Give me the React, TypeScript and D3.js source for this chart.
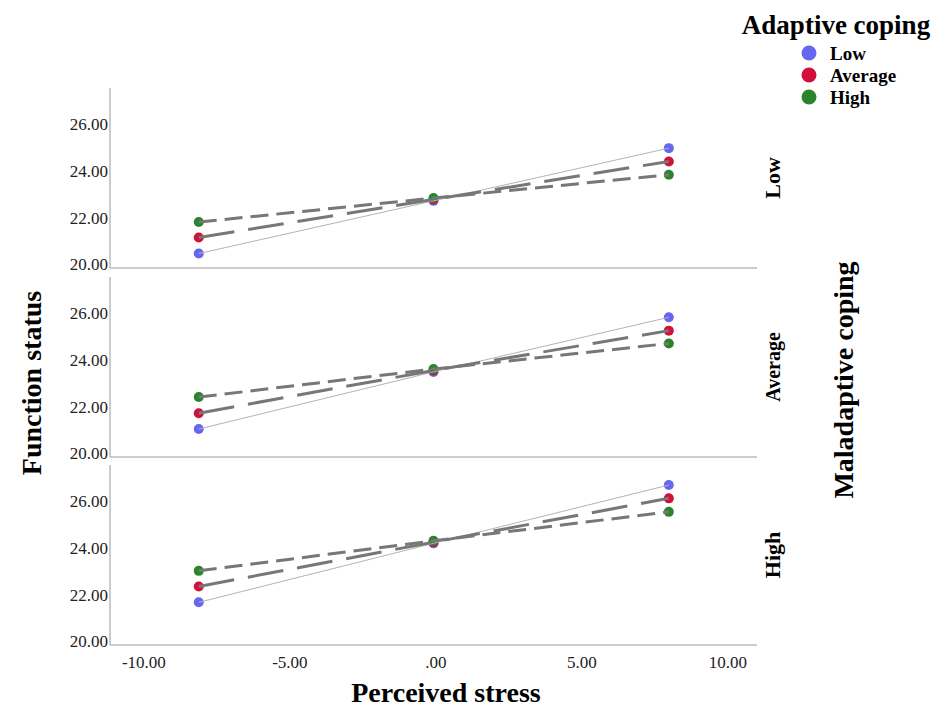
import React, { useRef, useEffect } from 'react';
import * as d3 from 'd3';

// perceived stress positions (-1 SD, mean, +1 SD)
const stressLevels = [-8.12, -0.08, 7.98];
// maladaptive coping panels, top to bottom
const panelNames = ['Low', 'Average', 'High'];
// adaptive coping series
const seriesNames = ['Low', 'Average', 'High'];
const seriesColors = ['#6666f0', '#d2103a', '#2b842b'];

// function status values: [panel][series][stress]
const lowMalValues = [
  [20.48, 22.74, 25.0],
  [21.17, 22.8, 24.43],
  [21.83, 22.86, 23.86],
];
const avgMalValues = [
  [21.06, 23.51, 25.85],
  [21.74, 23.57, 25.28],
  [22.43, 23.63, 24.73],
];
const highMalValues = [
  [21.69, 24.22, 26.72],
  [22.37, 24.27, 26.15],
  [23.04, 24.33, 25.57],
];
const panelValues = [lowMalValues, avgMalValues, highMalValues];

const yTicks = [20, 22, 24, 26];
const xTicks = [-10, -5, 0, 5, 10];

const fmt = (v: number) => {
  const s = v.toFixed(2);
  return s.replace(/^0\./, '.').replace(/^-0\./, '-.');
};

export default function App() {
  const ref = useRef<SVGSVGElement>(null);

  useEffect(() => {
    const svg = d3.select(ref.current);
    svg.selectAll('*').remove();

    const font = '"Liberation Serif", "Times New Roman", serif';
    const left = 110, right = 757;
    const panelTops = [88, 277, 465];
    const panelH = 180;

    const x = d3.scaleLinear().domain([-11.16, 11.0]).range([left, right]);

    const lineStyles = [
      { w: 1, color: '#b4b4b4', dash: null },
      { w: 3, color: '#777', dash: '36,14' },
      { w: 3, color: '#777', dash: '18,8' },
    ];

    panelTops.forEach((top, pi) => {
      const y = d3.scaleLinear().domain([19.86, 27.58]).range([top + panelH, top]);
      const g = svg.append('g');

      // axes
      g.append('line')
        .attr('x1', left).attr('x2', left)
        .attr('y1', top).attr('y2', top + panelH)
        .attr('stroke', '#9a9a9a').attr('stroke-width', 1);
      g.append('line')
        .attr('x1', left).attr('x2', right)
        .attr('y1', top + panelH).attr('y2', top + panelH)
        .attr('stroke', '#9a9a9a').attr('stroke-width', 1);

      g.selectAll('text.ytick')
        .data(yTicks)
        .join('text')
          .attr('class', 'ytick')
          .attr('x', left - 2)
          .attr('y', d => y(d))
          .attr('dy', '0.32em')
          .attr('text-anchor', 'end')
          .style('font-family', font)
          .style('font-size', '17px')
          .attr('fill', '#222')
          .text(d => fmt(d));

      const values = panelValues[pi];

      // points
      values.forEach((vals, si) => {
        g.selectAll(`circle.s${si}`)
          .data(vals)
          .join('circle')
            .attr('class', `s${si}`)
            .attr('cx', (_, i) => x(stressLevels[i]))
            .attr('cy', d => y(d))
            .attr('r', 5)
            .attr('fill', seriesColors[si]);
      });

      // lines over points
      const line = d3.line<number>()
        .x((_, i) => x(stressLevels[i]))
        .y(d => y(d));
      values.forEach((vals, si) => {
        const st = lineStyles[si];
        g.append('path')
          .attr('d', line(vals))
          .attr('fill', 'none')
          .attr('stroke', st.color)
          .attr('stroke-width', st.w)
          .attr('stroke-dasharray', st.dash);
      });

      // panel label
      g.append('text')
        .attr('transform', `translate(780,${top + panelH / 2}) rotate(-90)`)
        .attr('text-anchor', 'middle')
        .style('font-family', font)
        .style('font-weight', 'bold')
        .style('font-size', pi === 1 ? '20px' : '22px')
        .text(panelNames[pi]);
    });

    // x ticks
    svg.selectAll('text.xtick')
      .data(xTicks)
      .join('text')
        .attr('class', 'xtick')
        .attr('x', d => x(d))
        .attr('y', 668)
        .attr('text-anchor', 'middle')
        .style('font-family', font)
        .style('font-size', '17px')
        .attr('fill', '#222')
        .text(d => fmt(d));

    // axis titles
    svg.append('text')
      .attr('x', 446).attr('y', 702)
      .attr('text-anchor', 'middle')
      .style('font-family', font).style('font-weight', 'bold').style('font-size', '28px')
      .text('Perceived stress');
    svg.append('text')
      .attr('transform', 'translate(41,383) rotate(-90)')
      .attr('text-anchor', 'middle')
      .style('font-family', font).style('font-weight', 'bold').style('font-size', '28px')
      .text('Function status');
    svg.append('text')
      .attr('transform', 'translate(853,380) rotate(-90)')
      .attr('text-anchor', 'middle')
      .style('font-family', font).style('font-weight', 'bold').style('font-size', '28px')
      .text('Maladaptive coping');

    // legend
    svg.append('text')
      .attr('x', 836).attr('y', 34)
      .attr('text-anchor', 'middle')
      .style('font-family', font).style('font-weight', 'bold').style('font-size', '27px')
      .text('Adaptive coping');
    const leg = svg.selectAll('g.leg')
      .data(seriesNames)
      .join('g')
        .attr('class', 'leg')
        .attr('transform', (_, i) => `translate(809,${53 + i * 22})`);
    leg.append('circle')
      .attr('r', 7.5)
      .attr('fill', (_, i) => seriesColors[i]);
    leg.append('text')
      .attr('x', 21).attr('y', 0)
      .attr('dy', '0.35em')
      .style('font-family', font).style('font-weight', 'bold').style('font-size', '19px')
      .text(d => d);
  }, []);

  return (
    <svg
      ref={ref}
      width={936}
      height={711}
      style={{ position: 'absolute', left: 0, top: 0, background: '#fff' }}
    />
  );
}
